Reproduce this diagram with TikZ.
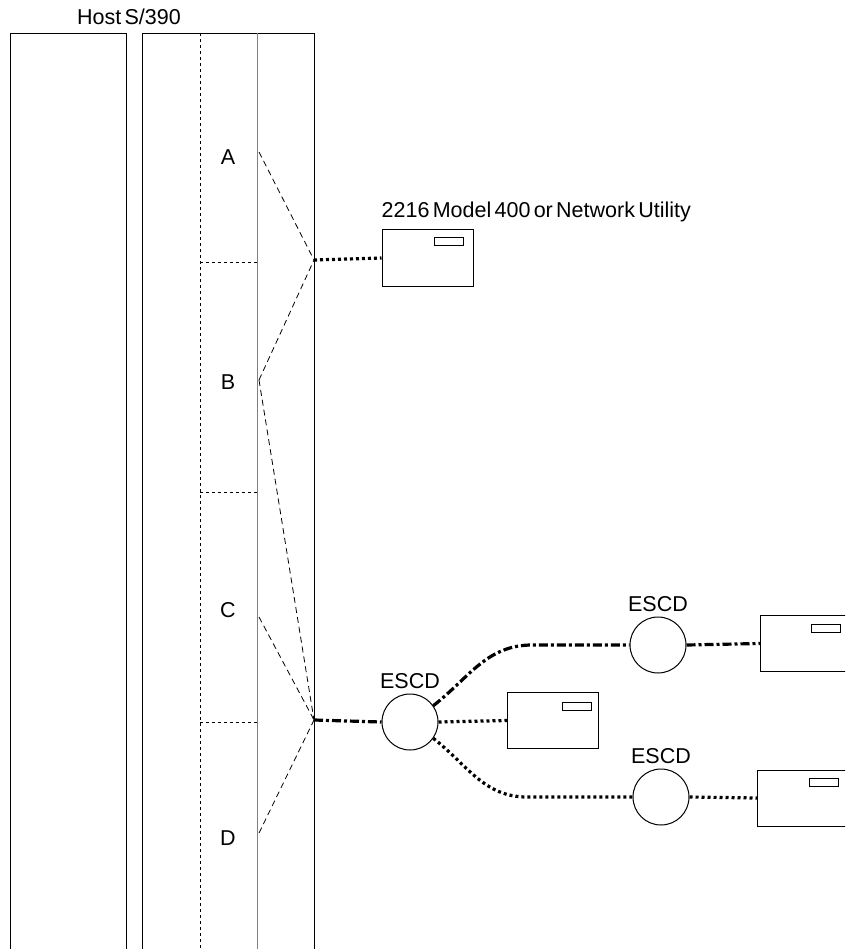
\documentclass[tikz,border=0pt]{standalone}
\usepackage{fontspec}
\setmainfont{Liberation Sans}[WordSpace=0.55]
\begin{document}
\begin{tikzpicture}[x=1pt, y=-1pt,
        font=\fontsize{21.5}{25}\selectfont,
        coluna/.style={draw, line width=1pt, minimum width=#1, minimum height=950pt, anchor=north west, inner sep=0pt},
        unidade/.style={draw, line width=1pt, minimum width=91pt, minimum height=56pt, inner sep=0pt},
        visor/.style={draw, line width=0.8pt, minimum width=29pt, minimum height=8pt, inner sep=0pt, anchor=north east},
        escd/.style={circle, draw, line width=1pt, minimum size=56pt, inner sep=0pt,
            label={[label distance=1pt]above:ESCD}},
        fino/.style={line width=0.8pt, dash pattern=on 6pt off 4pt},
        pontos/.style={line width=3.2pt, dash pattern=on 3pt off 3pt},
        traco/.style={line width=3.2pt, dash pattern=on 9pt off 3pt on 3pt off 3pt}]
        \clip (0,0) rectangle (845,949);
        % host
        \node[coluna=116pt] (h1) at (10,33) {};
        \node[coluna=172pt] (h2) at (142,33) {};
        \node (host) at (129,17) {Host S/390};
        \draw[fino, dash pattern=on 3pt off 3pt] (200,33) -- (200,949);
        \draw[line width=1pt, gray] (257,33) -- (257,949);
        \foreach \y in {262,492,722}{
            \draw[fino, dash pattern=on 3pt off 3pt] (200,\y) -- (257,\y);
        }
        \foreach \l/\y/\yy in {A/157/152, B/382/380, C/610/617, D/838/833}{
            \node (\l) at (228,\y) {\l};
            \coordinate (s\l) at (259,\yy);
        }
        \coordinate (pa) at (314,260);
        \coordinate (pd) at (314,720);
        \draw[fino] (sA) -- (pa);
        \draw[fino] (sB) -- (pa);
        \draw[fino] (sB) -- (pd);
        \draw[fino] (sC) -- (pd);
        \draw[fino] (sD) -- (pd);
        % 2216
        \node[unidade] (u0) at (427.5,258) {};
        \node[visor] at ([xshift=-10pt, yshift=-8pt]u0.north east) {};
        \node[anchor=south west, inner sep=2pt] (nu) at ([xshift=-2pt, yshift=5pt]u0.north west) {2216 Model 400 or Network Utility};
        \draw[pontos] (pa) -- (u0.west);
        % ESCD
        \node[escd] (e1) at (410,722) {};
        \node[escd] (e2) at (658,645) {};
        \node[escd] (e3) at (661,797) {};
        \node[unidade] (u1) at (553,720.5) {};
        \node[unidade, minimum width=120pt, anchor=west] (u2) at (760,643.5) {};
        \node[unidade, minimum width=120pt, anchor=west] (u3) at (757,798) {};
        \node[visor] at ([xshift=-7pt, yshift=-10pt]u1.north east) {};
        \node[visor] at (841,624) {};
        \node[visor] at (839,778) {};
        \coordinate (k1) at (532,645);
        \coordinate (k2) at (527,797);
        \draw[traco] (pd) -- (e1.west);
        \draw[pontos] (e1.east) -- (u1.west);
        \draw[traco] (e1.35) to[out=38, in=180] (k1) -- (e2.west);
        \draw[traco] (e2.east) -- (u2.west);
        \draw[pontos] (e1.-35) to[out=-38, in=180] (k2) -- (e3.west);
        \draw[pontos] (e3.east) -- (u3.west);
\end{tikzpicture}
\end{document}
